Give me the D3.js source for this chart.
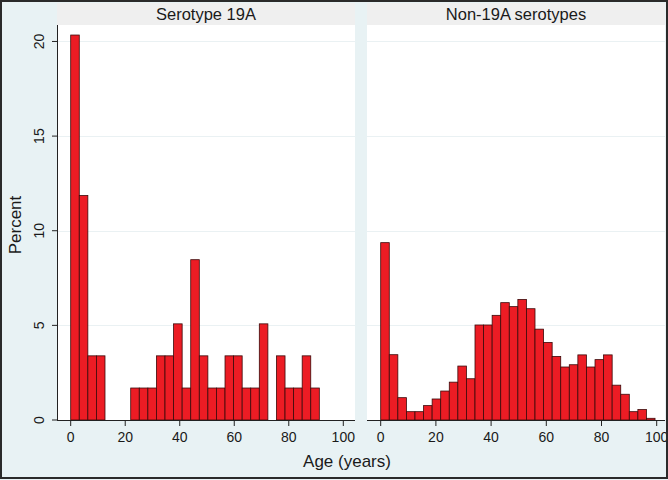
<!DOCTYPE html>
<html><head><meta charset="utf-8">
<script src="https://cdn.jsdelivr.net/npm/d3@7"></script>
<style>
html,body{margin:0;padding:0;background:#e8f2f4;}
text{font-family:"Liberation Sans",Arial,Helvetica,sans-serif;fill:#1a1a1a;}
</style></head>
<body><svg id="c" width="668" height="480"></svg>
<script>
// Panel titles
const panelTitles = ["Serotype 19A", "Non-19A serotypes"];
// Percent per age bin, bins start at age 0
const serotype19A = [20.34, 11.86, 3.39, 3.39, 0, 0, 0, 1.69, 1.69, 1.69, 3.39, 3.39, 5.08, 1.69, 8.47,
  3.39, 1.69, 1.69, 3.39, 3.39, 1.69, 1.69, 5.08, 0, 3.39, 1.69, 1.69, 3.39, 1.69];
const non19A = [9.37, 3.45, 1.18, 0.44, 0.44, 0.76, 1.11, 1.53, 2.0, 2.85, 2.18, 5.02, 5.02, 5.53, 6.2, 5.99,
  6.37, 5.88, 4.8, 4.1, 3.36, 2.8, 2.92, 3.44, 2.8, 3.19, 3.44, 1.84, 1.36, 0.44, 0.55, 0.09];
const binWidths = [3.145, 3.106];
const xTicks = [0, 20, 40, 60, 80, 100];
const yTicks = [0, 5, 10, 15, 20];
const xLabel = "Age (years)";
const yLabel = "Percent";

const svg = d3.select("#c");
const W = 668, H = 480;
svg.append("rect").attr("x", 0).attr("y", 0).attr("width", W).attr("height", H).attr("fill", "#e8f2f4");

const plotTop = 25, plotBottom = 420;
const y = d3.scaleLinear().domain([0, 20.87]).range([plotBottom, plotTop]);

const panels = [
  {title: panelTitles[0], data: serotype19A, bw: binWidths[0], left: 57, right: 355, x0: 70.7, x100: 343.3, yAxis: true},
  {title: panelTitles[1], data: non19A, bw: binWidths[1], left: 367, right: 665, x0: 380.7, x100: 656.7, yAxis: false}
];

panels.forEach(p => {
  const g = svg.append("g");
  // strip
  g.append("rect").attr("x", p.left).attr("y", 3).attr("width", p.right - p.left).attr("height", plotTop - 3)
    .attr("fill", "#efefef");
  g.append("text").attr("x", (p.left + p.right) / 2).attr("y", 20).attr("text-anchor", "middle")
    .attr("font-size", 16.5).text(p.title);
  // plot area
  g.append("rect").attr("x", p.left).attr("y", plotTop).attr("width", p.right - p.left).attr("height", plotBottom - plotTop)
    .attr("fill", "#ffffff");
  const x = d3.scaleLinear().domain([0, 100]).range([p.x0, p.x100]);
  // gridlines
  g.selectAll("line.grid").data(yTicks.filter(t => t > 0)).join("line")
    .attr("x1", p.left).attr("x2", p.right)
    .attr("y1", d => Math.round(y(d)) + 0.5).attr("y2", d => Math.round(y(d)) + 0.5)
    .attr("stroke", "#eaf1f3").attr("stroke-width", 1);
  // bars
  g.selectAll("rect.bar").data(p.data.map((v, i) => ({v, i})).filter(d => d.v > 0)).join("rect")
    .attr("x", d => x(d.i * p.bw)).attr("width", d => x((d.i + 1) * p.bw) - x(d.i * p.bw))
    .attr("y", d => y(d.v)).attr("height", d => y(0) - y(d.v))
    .attr("fill", "#ec1c24").attr("stroke", "#3a0a0a").attr("stroke-width", 0.8);
  // x axis
  const xa = g.append("g").attr("transform", `translate(0,${plotBottom})`);
  xa.append("line").attr("x1", p.left).attr("x2", p.right).attr("y1", 0.5).attr("y2", 0.5).attr("stroke", "#222").attr("stroke-width", 1);
  xa.selectAll("line.t").data(xTicks).join("line").attr("class", "t")
    .attr("x1", d => x(d)).attr("x2", d => x(d)).attr("y1", 0.5).attr("y2", 6).attr("stroke", "#222");
  xa.selectAll("text").data(xTicks).join("text")
    .attr("x", d => x(d)).attr("y", 22).attr("text-anchor", "middle").attr("font-size", 14).text(d => d);
  if (p.yAxis) {
    const ya = g.append("g");
    ya.append("line").attr("x1", p.left + 0.5).attr("x2", p.left + 0.5).attr("y1", plotTop).attr("y2", plotBottom + 0.5)
      .attr("stroke", "#222");
    ya.selectAll("line.t").data(yTicks).join("line").attr("class", "t")
      .attr("x1", p.left - 5).attr("x2", p.left + 0.5).attr("y1", d => y(d)).attr("y2", d => y(d)).attr("stroke", "#222");
    ya.selectAll("text").data(yTicks).join("text")
      .attr("transform", d => `translate(44,${y(d)}) rotate(-90)`)
      .attr("text-anchor", "middle").attr("font-size", 14).text(d => d);
  }
});

svg.append("text").attr("x", 347).attr("y", 467).attr("text-anchor", "middle").attr("font-size", 17).text(xLabel);
svg.append("text").attr("transform", `translate(21,225) rotate(-90)`).attr("text-anchor", "middle").attr("font-size", 17).text(yLabel);

// outer frame
svg.append("rect").attr("x", 1).attr("y", 1).attr("width", W - 2).attr("height", H - 3)
  .attr("fill", "none").attr("stroke", "#2a2a2a").attr("stroke-width", 2);
</script></body></html>
